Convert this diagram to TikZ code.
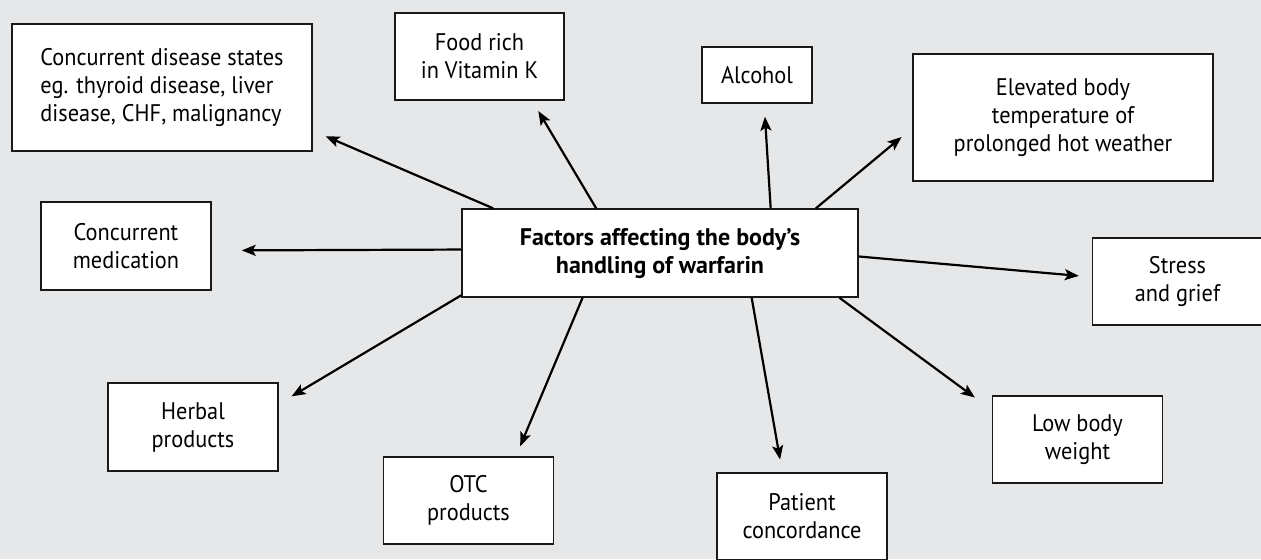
\documentclass[tikz,border=0pt]{standalone}
\usepackage{fontspec}
\setmainfont{PT Sans}
\newfontfamily\narrowsans{PT Sans}[FakeStretch=0.93]
\usetikzlibrary{arrows.meta}
\definecolor{bggray}{RGB}{230,231,232}

\tikzset{
  factor/.style={draw=black!90, line width=0.7pt, fill=white, align=center,
    inner sep=2pt, font=\narrowsans\fontsize{12}{14}\selectfont,
    minimum width=85pt, minimum height=44pt},
  arr/.style={-{Stealth[length=7pt,width=5.5pt,inset=1.5pt]}, line width=1.1pt}
}

\begin{document}
\begin{tikzpicture}[x=0.5pt, y=-0.5pt]
    \fill[bggray] (0,0) rectangle (1261,559);
    \useasboundingbox (0,0) rectangle (1261,559);

    \node[factor, minimum width=198pt, font=\bfseries\fontsize{12}{14}\selectfont] (fac) at (660,253)
        {Factors affecting the body’s\\handling of warfarin};
    \node[factor, align=left, minimum width=150pt, minimum height=63.5pt] (dis) at (162,87.5)
        {Concurrent disease states\\eg. thyroid disease, liver\\disease, CHF, malignancy};
    \node[factor, minimum width=84.5pt, minimum height=43.5pt] (food) at (479.5,56.5) {Food rich\\in Vitamin K};
    \node[factor, minimum width=55pt, minimum height=28pt] (alc) at (757,75) {Alcohol};
    \node[factor, minimum width=150pt, minimum height=63.5pt] (elev) at (1063,117.5)
        {Elevated body\\temperature of\\prolonged hot weather};
    \node[factor, minimum height=43.5pt] (stress) at (1177.5,281.5) {Stress\\and grief};
    \node[factor, minimum height=43.5pt] (low) at (1077.5,439.5) {Low body\\weight};
    \node[factor, minimum height=43.5pt] (pat) at (802,516.5) {Patient\\concordance};
    \node[factor, minimum height=43.5pt] (otc) at (468.5,500.5) {OTC\\products};
    \node[factor] (herb) at (193,427) {Herbal\\products};
    \node[factor] (med) at (126,246) {Concurrent\\medication};

    \path[arr] (fac.165) edge [shorten >=7pt] (dis.-16)
          (fac.145) edge [shorten >=6pt] (food.-40)
          (fac.22.5) edge [shorten >=6.5pt] (alc.-76.5)
          (fac.16) edge [shorten >=7pt] (elev.184)
          (fac.-1.5) edge [shorten >=6.5pt] (stress.177.7)
          (fac.-14) edge [shorten >=10.5pt] (low.161.7)
          (fac.-26.8) edge [shorten >=6.5pt] (pat.114)
          (fac.-150.6) edge [shorten >=5.5pt] (otc.43.9)
          (fac.192.8) edge [shorten >=7.5pt] (herb.15.8)
          (fac.179.1) edge [shorten >=15pt] (med.-3.4);
\end{tikzpicture}
\end{document}
